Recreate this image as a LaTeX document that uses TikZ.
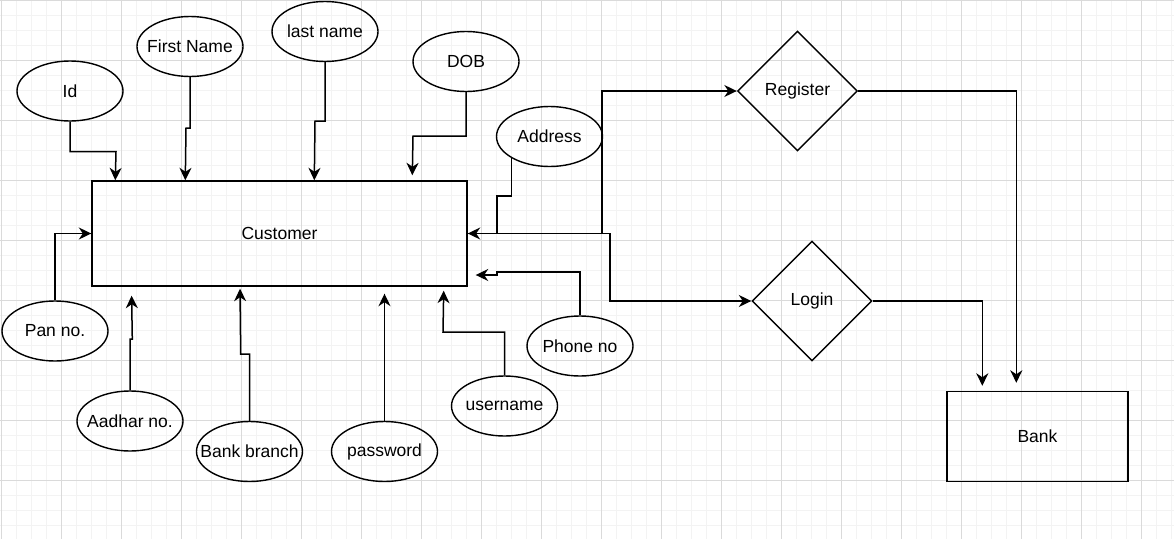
\documentclass[tikz,border=0pt]{standalone}
\usepackage{fontspec}
\setmainfont{Liberation Sans}
\usepackage{tikz}
\usetikzlibrary{arrows.meta, shapes.geometric}

\definecolor{gridmajor}{RGB}{218,218,218}
\definecolor{gridminor}{RGB}{243,243,243}

\begin{document}
\begin{tikzpicture}[
  x=1pt, y=-1pt,
  font=\fontsize{17.5}{21}\selectfont,
  entity/.style = {draw, line width=1.4pt, inner sep=0pt},
  attr/.style = {draw, ellipse, line width=1.4pt, minimum width=106pt, minimum height=60pt, inner sep=0pt, label={center:#1}},
  relation/.style = {draw, diamond, aspect=1, line width=1.4pt, minimum width=120pt, minimum height=120pt, inner sep=0pt},
  arrow/.style = {line width=1.5pt, -{Stealth[length=12.5pt, width=12pt, inset=4pt]}}
]

  % Canvas and grid
  \useasboundingbox (0,0) rectangle (1174,538);
  \fill[white] (0,0) rectangle (1174,538);
  \begin{scope}
    \clip (0,0) rectangle (1174,538);
    \begin{scope}[shift={(1.7,0.7)}, y=1pt]
      \draw[gridminor, line width=0.8pt, step=15pt] (-15,-555) grid (1185,15);
      \draw[gridmajor, line width=0.8pt, step=60pt] (-60,-600) grid (1200,60);
    \end{scope}
  \end{scope}

  % Entities
  \node[entity, minimum width=375pt, minimum height=105pt] (cust) at (279.5,233.5) {Customer};
  \node[entity, minimum width=181pt, minimum height=90pt] (bank) at (1037.5,436.5) {Bank};

  % Relations
  \node[relation] (reg) at (797.5,91) {Register};
  \node[relation] (login) at (812,301) {Login};

  % Attributes
  \node[attr=Id] (id) at (70,91) {};
  \node[attr=First Name] (fname) at (190,46.5) {};
  \node[attr=last name] (lname) at (325,31.5) {};
  \node[attr=DOB] (dob) at (466,61.5) {};
  \node[attr=Address] (addr) at (549.5,136.5) {};
  \node[attr=Pan no.] (pan) at (55,331) {};
  \node[attr=Aadhar no.] (aadhar) at (130,421) {};
  \node[attr=Bank branch] (branch) at (249.5,451.5) {};
  \node[attr=password] (pass) at (384.5,451.5) {};
  \node[attr=username] (user) at (504.5,406) {};
  \node[attr=Phone no] (phone) at (580,346) {};

  % Attribute links
  \draw[arrow] (id.south) |- (116,151.5) -- ([xshift=24pt]cust.north west);
  \draw[arrow] (fname.south) |- (186,128) -- ([xshift=94pt]cust.north west);
  \draw[arrow] (lname.south) |- (315,121) -- ([xshift=223pt]cust.north west);
  \draw[arrow] (dob.south) |- (413,136) -- ([xshift=321pt, yshift=5pt]cust.north west);
  \draw[arrow] (addr.south west) |- (497,196) |- (cust.east);
  \draw[arrow] (phone.north) |- (497,272) |- ([xshift=8pt, yshift=-41.5pt]cust.east);
  \draw[arrow] (user.north) |- (443,332) -- ([xshift=-24pt, yshift=-4pt]cust.south east);
  \draw[arrow] (pass.north) -- ([xshift=105pt, yshift=-7pt]cust.south);
  \draw[arrow] (branch.north) |- (240.7,354) -- ([xshift=148.7pt, yshift=-2pt]cust.south west);
  \draw[arrow] (aadhar.north) |- (132.3,339) -- ([xshift=40.3pt, yshift=-9pt]cust.south west);
  \draw[arrow] (pan.north) |- (cust.west);

  % Relationship links
  \draw[arrow] (cust.east) -| (602,91) -- (reg.west);
  \draw[arrow] (cust.east) -| (610,301) -- (login.west);
  \draw[arrow] (reg.east) -| ([xshift=70pt, yshift=8pt]bank.north west);
  \draw[arrow] (login.east) -| ([xshift=36pt, yshift=5pt]bank.north west);

\end{tikzpicture}
\end{document}
